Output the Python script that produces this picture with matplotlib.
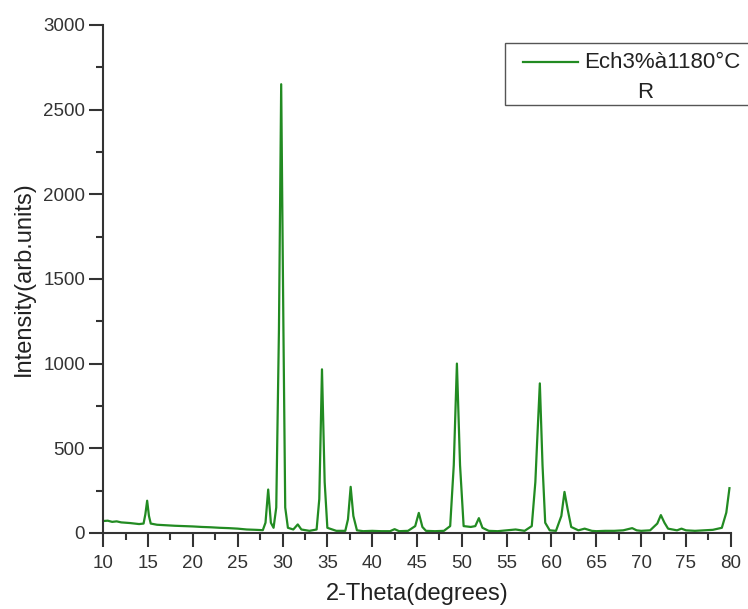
import matplotlib.pyplot as plt
from matplotlib.ticker import MultipleLocator
from matplotlib.patches import Rectangle
from matplotlib.lines import Line2D

plt.rcParams['font.family'] = ['Liberation Sans', 'DejaVu Sans']

# 2-theta (deg) and intensity
theta = [10.0, 10.5, 11.0, 11.5, 12.0, 12.5, 13.0, 13.5, 14.0, 14.5, 14.7, 14.9, 15.1, 15.3,
         16.0, 17.0, 18.0, 19.0, 20.0, 21.0, 22.0, 23.0, 24.0, 25.0, 26.0, 27.0, 27.8,
         28.1, 28.4, 28.7, 29.0, 29.3, 29.6, 29.85, 30.1, 30.3, 30.6, 31.2, 31.7, 32.1,
         33.0, 33.8, 34.1, 34.4, 34.7, 35.0, 36.0, 37.0, 37.3, 37.6, 37.9, 38.3, 39.0,
         40.0, 41.0, 42.0, 42.5, 43.0, 44.0, 44.8, 45.2, 45.6, 46.0, 47.0, 48.0, 48.7,
         49.1, 49.45, 49.8, 50.2, 51.0, 51.5, 51.9, 52.3, 53.0, 54.0, 55.0, 56.0, 57.0,
         57.8, 58.2, 58.4, 58.7, 59.0, 59.3, 59.8, 60.5, 61.1, 61.45, 61.8, 62.2, 63.0,
         63.7, 64.5, 65.0, 66.0, 67.0, 68.0, 69.0, 69.5, 70.0, 71.0, 71.8, 72.2, 72.6,
         73.0, 74.0, 74.5, 75.0, 76.0, 77.0, 78.0, 79.0, 79.5, 79.85]
intensity = [70, 72, 65, 68, 62, 60, 58, 55, 52, 55, 110, 190, 100, 55,
             48, 45, 42, 40, 38, 35, 33, 30, 28, 25, 20, 18, 16,
             60, 256, 60, 30, 150, 1200, 2650, 1200, 150, 30, 20, 50, 20,
             12, 20, 200, 966, 300, 30, 12, 12, 80, 272, 100, 15, 10,
             12, 10, 10, 22, 10, 12, 40, 118, 35, 12, 10, 12, 40,
             400, 1000, 400, 40, 35, 40, 87, 30, 12, 10, 15, 20, 12,
             40, 300, 540, 883, 400, 60, 15, 12, 100, 242, 140, 35, 15,
             25, 12, 10, 12, 12, 15, 28, 15, 12, 15, 55, 105, 60,
             25, 15, 25, 15, 12, 15, 18, 30, 120, 264]
series_name = 'Ech3%à1180°C'
series_note = 'R'

W, H = 748, 609
fig = plt.figure(figsize=(W / 100, H / 100), dpi=100)
ax = fig.add_axes([0.138, 0.125, 0.839, 0.834])

line, = ax.plot(theta, intensity, color='#228b22', lw=1.6)

ax.set_xlim(10, 80)
ax.set_ylim(0, 3000)
ax.xaxis.set_major_locator(MultipleLocator(5))
ax.xaxis.set_minor_locator(MultipleLocator(2.5))
ax.yaxis.set_major_locator(MultipleLocator(500))
ax.yaxis.set_minor_locator(MultipleLocator(250))

for s in ['top', 'right']:
    ax.spines[s].set_visible(False)
for s in ['left', 'bottom']:
    ax.spines[s].set_color('#333333')
    ax.spines[s].set_linewidth(1.5)
ax.tick_params(which='major', length=10, width=1.5, color='#333333',
               labelsize=13.5, labelcolor='#333333')
ax.tick_params(which='minor', length=5, width=1.5, color='#333333')
ax.tick_params(axis='x', pad=6)
ax.tick_params(axis='y', pad=3)

ax.set_xlabel('2-Theta(degrees)', fontsize=17, color='#222222', labelpad=8)
ax.set_ylabel('Intensity(arb.units)', fontsize=17, color='#222222', labelpad=6)

# legend box, reaching the right edge as in the original
ft = fig.transFigure
fig.add_artist(Rectangle((505 / W, 1 - 105 / H), 260 / W, 62 / H, transform=ft,
                         facecolor='white', edgecolor='#555555', lw=1.0))
fig.add_artist(Line2D([523 / W, 578 / W], [1 - 62 / H, 1 - 62 / H], transform=ft,
                      color=line.get_color(), lw=1.6))
fig.text(584 / W, 1 - 62 / H, series_name, fontsize=16, color='#222222',
         ha='left', va='center')
fig.text(645 / W, 1 - 92 / H, series_note, fontsize=16, color='#222222',
         ha='center', va='center')

plt.savefig('out.png', dpi=100)
